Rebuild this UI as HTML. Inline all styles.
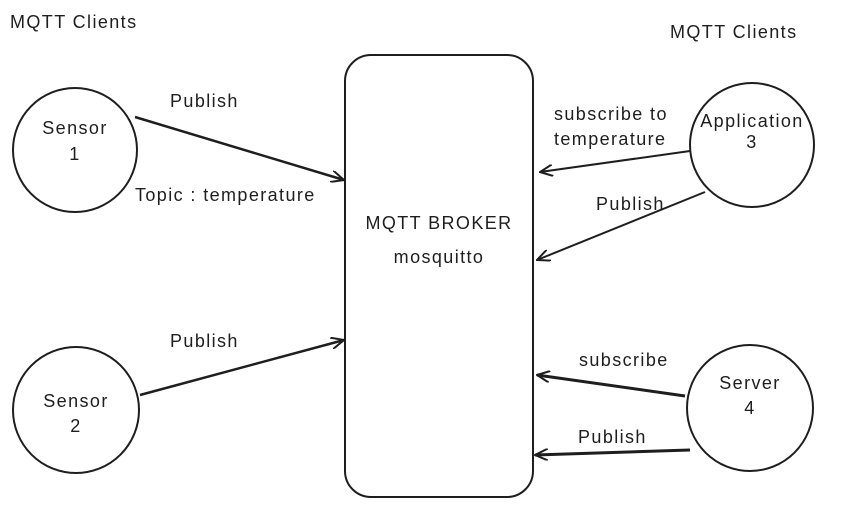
<!DOCTYPE html>
<html><head><meta charset="utf-8"><style>
body{margin:0;background:#fff;}
svg text{font-family:"Liberation Sans",sans-serif;font-size:18px;letter-spacing:1.4px;fill:#1e1e1e;}
</style></head><body>
<svg width="843" height="508" viewBox="0 0 843 508" xmlns="http://www.w3.org/2000/svg">
<defs><marker id="a" markerWidth="14" markerHeight="12" refX="13" refY="6" orient="auto" markerUnits="userSpaceOnUse"><path d="M0,0 L13,6 L0,12" fill="none" stroke="#1e1e1e" stroke-width="2"/></marker></defs>
<g fill="none" stroke="#1e1e1e" stroke-width="2">
<circle cx="75" cy="150" r="62"/>
<circle cx="76" cy="410" r="63"/>
<circle cx="752" cy="145" r="62"/>
<circle cx="750" cy="408" r="63"/>
<rect x="345" y="55" width="188" height="442" rx="26"/>
<line x1="135" y1="117" x2="344" y2="180" marker-end="url(#a)" stroke-width="2.5"/>
<line x1="140" y1="395" x2="344" y2="340" marker-end="url(#a)" stroke-width="2.5"/>
<line x1="690" y1="151" x2="540" y2="172" marker-end="url(#a)"/>
<line x1="705" y1="192" x2="537" y2="260" marker-end="url(#a)"/>
<line x1="685" y1="396" x2="537" y2="375" marker-end="url(#a)" stroke-width="3"/>
<line x1="690" y1="450" x2="535" y2="455" marker-end="url(#a)" stroke-width="3"/>
</g>
<text x="10" y="28">MQTT Clients</text>
<text x="670" y="38">MQTT Clients</text>
<text x="75" y="134" text-anchor="middle">Sensor</text>
<text x="75" y="160" text-anchor="middle">1</text>
<text x="76" y="407" text-anchor="middle">Sensor</text>
<text x="76" y="432" text-anchor="middle">2</text>
<text x="752" y="127" text-anchor="middle">Application</text>
<text x="752" y="148" text-anchor="middle">3</text>
<text x="750" y="389" text-anchor="middle">Server</text>
<text x="750" y="414" text-anchor="middle">4</text>
<text x="439" y="229" text-anchor="middle">MQTT BROKER</text>
<text x="439" y="263" text-anchor="middle">mosquitto</text>
<text x="170" y="107">Publish</text>
<text x="135" y="201">Topic : temperature</text>
<text x="170" y="347">Publish</text>
<text x="554" y="120">subscribe to</text>
<text x="554" y="145">temperature</text>
<text x="596" y="210">Publish</text>
<text x="579" y="366">subscribe</text>
<text x="578" y="443">Publish</text>
</svg>
</body></html>
